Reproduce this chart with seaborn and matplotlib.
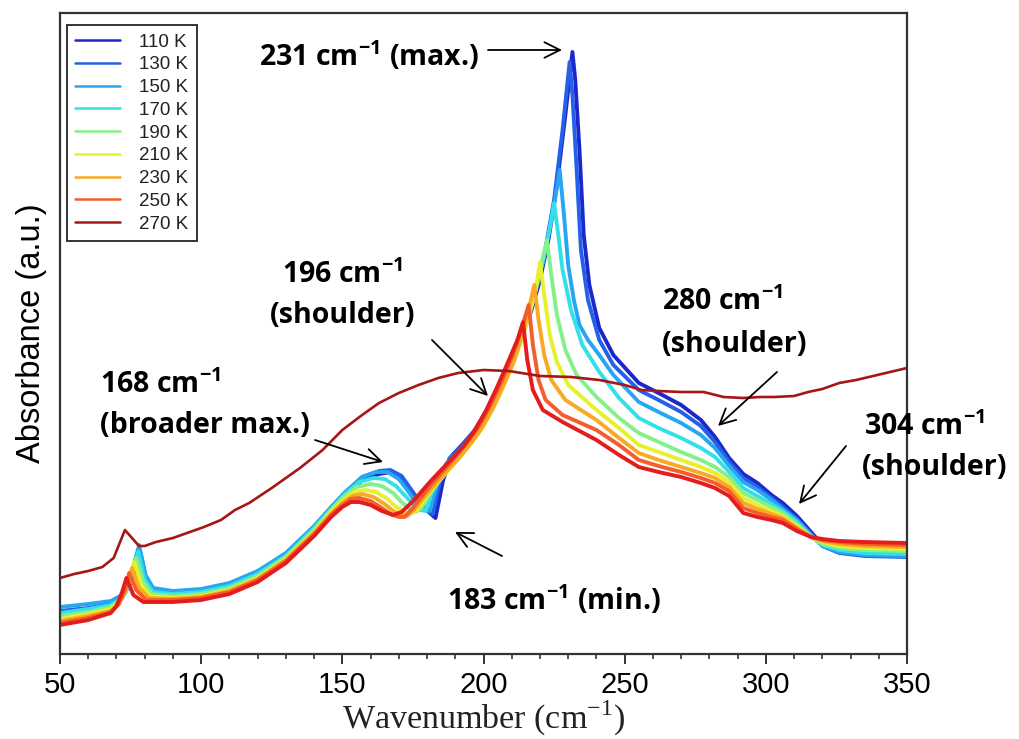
import matplotlib
matplotlib.use("Agg")
import matplotlib.pyplot as plt
from matplotlib.lines import Line2D
import numpy as np
import pandas as pd
import seaborn as sns

# ---------------- data (absorbance in arbitrary units) ----------------
WN_110K = [50, 60, 68, 72, 75, 78.5, 80.5, 83, 90, 100, 110, 120, 130, 140, 146, 151, 157, 163, 167, 171,
           174, 178, 181, 183, 185.7, 189, 193, 197, 201, 205, 209, 213, 217, 220, 223, 226, 229, 231.5, 232.5, 234,
           235.5, 237.5, 241, 246, 255, 262, 270, 277, 282, 287, 292, 297, 302, 306, 311, 316, 320, 326, 335, 350]
ABS_110K = [0.39, 0.43, 0.48, 0.56, 0.71, 0.99, 0.69, 0.57, 0.56, 0.60, 0.67, 0.79, 0.98, 1.24, 1.42, 1.57, 1.74, 1.80, 1.82, 1.76,
            1.64, 1.49, 1.41, 1.36, 1.74, 1.99, 2.11, 2.24, 2.42, 2.64, 2.88, 3.14, 3.44, 3.74, 4.14, 4.69, 5.39, 6.02, 5.74, 5.04,
            4.19, 3.69, 3.26, 2.99, 2.71, 2.61, 2.49, 2.34, 2.17, 1.96, 1.80, 1.71, 1.59, 1.51, 1.38, 1.22, 1.09, 1.02, 0.99, 0.98]

WN_130K = [50, 60, 68, 72, 75, 78.3, 80.5, 83, 90, 100, 110, 120, 130, 140, 146, 151, 157, 163, 167, 171,
           174, 177, 180, 182, 184.5, 188, 192, 196, 200, 204, 208, 212, 216, 219, 222, 225, 228, 230.5, 231.5, 233,
           234.5, 237, 241, 246, 255, 262, 270, 277, 282, 287, 292, 297, 302, 306, 311, 316, 320, 326, 335, 350]
ABS_130K = [0.43, 0.46, 0.50, 0.57, 0.74, 1.04, 0.74, 0.62, 0.60, 0.63, 0.69, 0.81, 1.00, 1.27, 1.45, 1.60, 1.77, 1.83, 1.84, 1.78,
            1.66, 1.54, 1.44, 1.40, 1.72, 1.96, 2.07, 2.20, 2.38, 2.60, 2.84, 3.10, 3.40, 3.69, 4.06, 4.54, 5.24, 5.92, 5.59, 4.84,
            4.04, 3.54, 3.14, 2.89, 2.64, 2.54, 2.42, 2.28, 2.12, 1.92, 1.76, 1.67, 1.56, 1.47, 1.35, 1.20, 1.08, 1.01, 0.98, 0.97]

WN_150K = [50, 60, 68, 72, 75, 78, 80.3, 83, 90, 100, 110, 120, 130, 140, 146, 151, 157, 162, 166, 170,
           173, 176, 179, 181, 183.5, 187, 191, 195, 199, 203, 207, 211, 215, 219, 222, 225, 227, 228.5, 230, 232,
           234, 237, 241, 246, 255, 262, 270, 277, 282, 287, 292, 297, 302, 306, 311, 316, 320, 326, 335, 350]
ABS_150K = [0.47, 0.50, 0.53, 0.59, 0.76, 1.09, 0.79, 0.66, 0.63, 0.65, 0.71, 0.83, 1.01, 1.28, 1.47, 1.62, 1.77, 1.82, 1.82, 1.75,
            1.64, 1.52, 1.45, 1.43, 1.69, 1.91, 2.02, 2.14, 2.31, 2.52, 2.76, 3.02, 3.32, 3.69, 4.04, 4.49, 4.84, 4.39, 3.89, 3.54,
            3.29, 3.14, 2.99, 2.79, 2.52, 2.42, 2.31, 2.19, 2.06, 1.88, 1.72, 1.64, 1.54, 1.45, 1.34, 1.19, 1.08, 1.02, 0.99, 0.98]

WN_170K = [50, 60, 68, 72, 75, 77.7, 80, 83, 90, 100, 110, 120, 130, 140, 146, 151, 156, 161, 165, 169,
           172, 175, 177.5, 179.5, 182, 186, 190, 194, 198, 202, 206, 210, 214, 218, 221, 223.5, 225, 226.5, 228, 231,
           235, 241, 248, 255, 262, 270, 277, 282, 287, 292, 297, 302, 306, 311, 316, 320, 326, 335, 350]
ABS_170K = [0.41, 0.45, 0.49, 0.56, 0.72, 1.02, 0.74, 0.62, 0.60, 0.62, 0.68, 0.80, 0.98, 1.26, 1.45, 1.60, 1.72, 1.76, 1.75, 1.68,
            1.59, 1.50, 1.44, 1.43, 1.64, 1.84, 1.96, 2.08, 2.24, 2.44, 2.66, 2.92, 3.22, 3.59, 3.92, 4.26, 4.51, 4.19, 3.84, 3.44,
            3.09, 2.82, 2.56, 2.36, 2.26, 2.16, 2.06, 1.97, 1.82, 1.66, 1.58, 1.50, 1.43, 1.32, 1.18, 1.09, 1.04, 1.01, 1.00]

WN_190K = [50, 60, 68, 72, 75, 77, 79.5, 82.5, 90, 100, 110, 120, 130, 140, 146, 150, 155, 160, 164, 168,
           171, 174, 176, 178, 181, 185, 189, 193, 197, 201, 205, 209, 213, 217, 220, 222.5, 224, 226, 229, 233,
           240, 248, 255, 262, 270, 277, 282, 287, 292, 297, 302, 306, 311, 316, 320, 326, 335, 350]
ABS_190K = [0.38, 0.42, 0.47, 0.56, 0.72, 0.96, 0.72, 0.60, 0.58, 0.60, 0.66, 0.78, 0.97, 1.24, 1.44, 1.56, 1.67, 1.70, 1.68, 1.61,
            1.52, 1.45, 1.42, 1.46, 1.60, 1.76, 1.89, 2.02, 2.16, 2.34, 2.56, 2.82, 3.11, 3.49, 3.84, 4.14, 3.79, 3.39, 3.04, 2.79,
            2.57, 2.36, 2.21, 2.12, 2.02, 1.94, 1.87, 1.77, 1.61, 1.54, 1.47, 1.41, 1.30, 1.17, 1.10, 1.06, 1.04, 1.03]

WN_210K = [50, 60, 68, 71, 74, 76.3, 78.8, 82, 90, 100, 110, 120, 130, 140, 146, 150, 154, 158, 162, 166,
           169, 172, 174, 176.5, 180, 184, 188, 192, 196, 200, 204, 208, 212, 216, 218.5, 220, 221.5, 223.5, 226, 230,
           240, 248, 255, 262, 270, 277, 282, 287, 292, 297, 302, 306, 311, 316, 320, 326, 335, 350]
ABS_210K = [0.35, 0.40, 0.45, 0.52, 0.69, 0.92, 0.69, 0.58, 0.56, 0.58, 0.64, 0.76, 0.95, 1.22, 1.42, 1.53, 1.62, 1.64, 1.62, 1.55,
            1.47, 1.42, 1.40, 1.44, 1.58, 1.72, 1.85, 1.98, 2.12, 2.28, 2.49, 2.74, 3.02, 3.36, 3.64, 3.92, 3.59, 3.19, 2.92, 2.69,
            2.44, 2.26, 2.09, 2.02, 1.94, 1.87, 1.81, 1.72, 1.56, 1.49, 1.43, 1.38, 1.28, 1.17, 1.12, 1.08, 1.06, 1.05]

WN_230K = [50, 60, 68, 71, 73.5, 75.5, 78, 81.5, 90, 100, 110, 120, 130, 140, 146, 150, 153.5, 157, 161, 165,
           168, 171, 173, 176, 179, 183, 187, 191, 195, 199, 203, 207, 211, 215, 218, 219.5, 221.5, 224, 229, 240,
           248, 255, 262, 270, 277, 282, 287, 292, 297, 302, 306, 311, 316, 320, 326, 335, 350]
ABS_230K = [0.33, 0.38, 0.43, 0.50, 0.66, 0.86, 0.66, 0.56, 0.55, 0.57, 0.63, 0.75, 0.94, 1.21, 1.40, 1.51, 1.58, 1.60, 1.57, 1.50,
            1.43, 1.39, 1.38, 1.46, 1.57, 1.70, 1.83, 1.95, 2.09, 2.24, 2.44, 2.68, 2.94, 3.32, 3.69, 3.34, 2.99, 2.74, 2.54, 2.34,
            2.16, 2.01, 1.94, 1.87, 1.81, 1.76, 1.67, 1.51, 1.45, 1.40, 1.36, 1.26, 1.17, 1.13, 1.10, 1.08, 1.07]

WN_250K = [50, 60, 68, 70.5, 73, 74.5, 77, 80.5, 90, 100, 110, 120, 130, 140, 146, 150, 153, 156, 160, 164,
           167, 170, 172, 175, 178, 182, 186, 190, 194, 198, 202, 206, 210, 213, 216, 217.5, 219.5, 222, 228, 240,
           248, 255, 262, 270, 277, 282, 287, 292, 297, 302, 306, 311, 316, 320, 326, 335, 350]
ABS_250K = [0.31, 0.36, 0.42, 0.49, 0.64, 0.81, 0.64, 0.54, 0.54, 0.56, 0.62, 0.74, 0.93, 1.20, 1.39, 1.49, 1.55, 1.56, 1.53, 1.46,
            1.40, 1.37, 1.37, 1.46, 1.57, 1.71, 1.84, 1.97, 2.11, 2.26, 2.46, 2.70, 2.96, 3.21, 3.49, 3.09, 2.74, 2.54, 2.39, 2.24,
            2.09, 1.94, 1.88, 1.82, 1.76, 1.71, 1.63, 1.46, 1.41, 1.37, 1.34, 1.25, 1.17, 1.14, 1.12, 1.10, 1.09]

WN_260K = [50, 60, 68, 70, 72, 73.5, 76, 79.5, 90, 100, 110, 120, 130, 140, 146, 150, 153, 156, 160, 164,
           168, 171, 174, 177, 181, 185, 189, 193, 197, 201, 205, 209, 212, 214, 215.5, 217.5, 221, 228, 240, 248,
           255, 262, 270, 277, 282, 287, 292, 297, 302, 306, 311, 316, 320, 326, 335, 350]
ABS_260K = [0.29, 0.34, 0.41, 0.48, 0.62, 0.76, 0.59, 0.52, 0.52, 0.54, 0.60, 0.72, 0.91, 1.18, 1.37, 1.47, 1.52, 1.52, 1.49, 1.43,
            1.39, 1.42, 1.50, 1.59, 1.72, 1.84, 1.96, 2.08, 2.24, 2.44, 2.68, 2.94, 3.14, 3.32, 2.94, 2.64, 2.44, 2.32, 2.14, 1.99,
            1.87, 1.82, 1.77, 1.71, 1.66, 1.58, 1.41, 1.37, 1.34, 1.31, 1.23, 1.17, 1.15, 1.13, 1.12, 1.11]

WN_270K = [50, 55, 60, 65, 69, 73, 75.5, 78, 80, 84, 90, 95, 101, 107, 112, 117, 125, 135, 143, 150,
           157, 163, 170, 177, 184, 191, 200, 209, 220, 231, 241, 250, 256, 262, 270, 278, 285, 292, 298, 303,
           310, 315, 320, 326, 332, 338, 344, 350]
ABS_270K = [0.76, 0.80, 0.83, 0.87, 0.96, 1.24, 1.16, 1.08, 1.08, 1.12, 1.16, 1.21, 1.27, 1.34, 1.44, 1.51, 1.66, 1.86, 2.04, 2.24,
            2.39, 2.51, 2.61, 2.69, 2.76, 2.81, 2.84, 2.83, 2.78, 2.77, 2.74, 2.69, 2.64, 2.63, 2.62, 2.62, 2.57, 2.56, 2.57, 2.57,
            2.58, 2.62, 2.65, 2.71, 2.74, 2.78, 2.82, 2.86]

BUNDLE_TEMPS = ["110 K", "130 K", "150 K", "170 K", "190 K", "210 K", "230 K", "250 K", "260 K"]
LEGEND_TEMPS = ["110 K", "130 K", "150 K", "170 K", "190 K", "210 K", "230 K", "250 K", "270 K"]
COLORS = {"110 K": "#1c28cc", "130 K": "#2460e8", "150 K": "#28a6f2", "170 K": "#34e0e8",
          "190 K": "#84f08c", "210 K": "#e6f02c", "230 K": "#f9aa24", "250 K": "#f35e2c",
          "260 K": "#e41c1c", "270 K": "#a51616"}

SERIES = [("110 K", WN_110K, ABS_110K), ("130 K", WN_130K, ABS_130K), ("150 K", WN_150K, ABS_150K),
          ("170 K", WN_170K, ABS_170K), ("190 K", WN_190K, ABS_190K), ("210 K", WN_210K, ABS_210K),
          ("230 K", WN_230K, ABS_230K), ("250 K", WN_250K, ABS_250K), ("260 K", WN_260K, ABS_260K)]

X_TICKS = [50, 100, 150, 200, 250, 300, 350]

# ---------------- figure ----------------
sns.set_theme(style="white")
plt.rcParams["font.family"] = ["Liberation Sans", "DejaVu Sans"]
plt.rcParams["mathtext.fontset"] = "custom"
plt.rcParams["mathtext.rm"] = "Open Sans"
plt.rcParams["mathtext.bf"] = "Open Sans:bold"

fig = plt.figure(figsize=(10.19, 7.39), dpi=100)
ax = fig.add_axes([60 / 1019, 85 / 739, 847 / 1019, 641 / 739])

df = pd.concat([pd.DataFrame({"Wavenumber": x, "Absorbance": y, "Temperature": t}) for t, x, y in SERIES],
               ignore_index=True)
sns.lineplot(data=df, x="Wavenumber", y="Absorbance", hue="Temperature", hue_order=BUNDLE_TEMPS,
             palette=COLORS, estimator=None, sort=False, linewidth=2.8, legend=False, ax=ax)
df270 = pd.DataFrame({"Wavenumber": WN_270K, "Absorbance": ABS_270K})
sns.lineplot(data=df270, x="Wavenumber", y="Absorbance", color=COLORS["270 K"], estimator=None,
             sort=False, linewidth=1.9, ax=ax)

ax.set_xlim(50, 350)
ax.set_ylim(0, 6.41)
ax.set_yticks([])
ax.set_xticks(X_TICKS)
ax.set_xticks(np.arange(50, 351, 10), minor=True)
ax.tick_params(axis="x", which="major", direction="out", length=7, width=1.4, color="#333333",
               labelsize=21, labelcolor="black", pad=5, bottom=True)
ax.tick_params(axis="x", which="minor", direction="out", length=3.5, width=1.2, color="#333333", bottom=True)
for s in ax.spines.values():
    s.set_color("#333333")
    s.set_linewidth(1.6)

ax.set_xlabel("Wavenumber (cm$^{\\mathregular{-1}}$)", fontsize=24.5, family="Liberation Serif",
              labelpad=0, color="#222222")
ax.xaxis.label.set_math_fontfamily("dejavuserif")
ax.set_ylabel("Absorbance (a.u.)", fontsize=23.5, labelpad=9, color="black")

handles = [Line2D([], [], color=COLORS[t], lw=1.8) for t in LEGEND_TEMPS]
leg = ax.legend(handles, LEGEND_TEMPS, loc="upper left", bbox_to_anchor=(7 / 847, 1 - 12 / 641),
                borderaxespad=0, fontsize=13.5, labelspacing=0.3, handlelength=2.4, handletextpad=1.0,
                frameon=True, fancybox=False, edgecolor="black", borderpad=0.45)
leg.get_frame().set_linewidth(1.4)
for t in leg.get_texts():
    t.set_color("#222222")


def px(xp, yp):
    return 50 + (xp - 60) / 847 * 300, (654 - yp) / 100


ANN_FONT = dict(fontsize=20.5, fontweight="bold", family="Open Sans", ha="left", va="baseline",
                color="black", clip_on=False)
texts = [
    (259, 66, "231 cm$^{\\mathbf{-1}}$ (max.)"),
    (282, 283, "196 cm$^{\\mathbf{-1}}$"),
    (270, 323, "(shoulder)"),
    (100, 393, "168 cm$^{\\mathbf{-1}}$"),
    (100, 433, "(broader max.)"),
    (662, 310, "280 cm$^{\\mathbf{-1}}$"),
    (662, 352, "(shoulder)"),
    (864, 435, "304 cm$^{\\mathbf{-1}}$"),
    (862, 475, "(shoulder)"),
    (447, 610, "183 cm$^{\\mathbf{-1}}$ (min.)"),
]
for xp, yp, s in texts:
    ax.text(*px(xp, yp), s, **ANN_FONT)

arrows = [((488, 50), (562, 50)), ((432, 340), (488, 396)), ((315, 440), (383, 462)),
          ((777, 372), (718, 426)), ((846, 446), (799, 504)), ((502, 556), (455, 532))]
for tail, head in arrows:
    ax.annotate("", xy=px(*head), xytext=px(*tail),
                arrowprops=dict(arrowstyle="->", lw=1.3, color="black", mutation_scale=28,
                                shrinkA=0, shrinkB=0), annotation_clip=False)

fig.savefig("out.png", dpi=100)
